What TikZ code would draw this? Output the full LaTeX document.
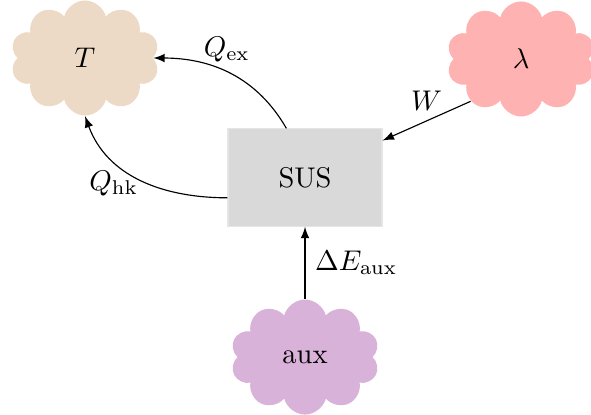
\documentclass[tikz,border=0pt]{standalone}
\usepackage{tikz}
\usepackage{amsmath, amssymb}
\usetikzlibrary{arrows}
\usetikzlibrary{shapes.symbols}

\tikzset{
  bath/.style={cloud, cloud puffs=10, aspect=1.3, inner sep=0pt,
    minimum width=1.84cm, minimum height=1.42cm},
  system/.style={rectangle, fill=gray!30, draw=gray!20,
    minimum width=1.9cm, minimum height=1.2cm},
  flow/.style={-latex}
}

\begin{document}
\begin{tikzpicture}
    \useasboundingbox (0,0) rectangle (7.293,5.109);

    % Reservoirs
    \node[bath, fill=brown!30]  (T)   at (1.049,4.393) {$T$};
    \node[bath, fill=red!30]    (lam) at (6.430,4.381) {$\lambda$};
    \node[bath, fill=violet!30] (aux) at (3.764,0.703) {aux};

    % System
    \node[system] (sus) at (3.764,2.918) {SUS};

    % Heat flows to the bath
    \draw[flow] ([xshift=-0.23cm]sus.north) to[out=120, in=0]
        node[pos=0.53, above] {$Q_\mathrm{ex}$} (T.east);
    \draw[flow] ([yshift=-0.25cm]sus.west) to[out=180, in=-70]
        node[pos=0.45, left] {$Q_\mathrm{hk}$} (T.south);

    % Work and auxiliary energy
    \draw[flow] (lam.220) -- node[midway, above] {$W$} ([yshift=-0.15cm]sus.north east);
    \draw[flow] (aux.north) -- node[midway, right] {$\Delta E_\mathrm{aux}$} (sus.south);
  \end{tikzpicture}
\end{document}
